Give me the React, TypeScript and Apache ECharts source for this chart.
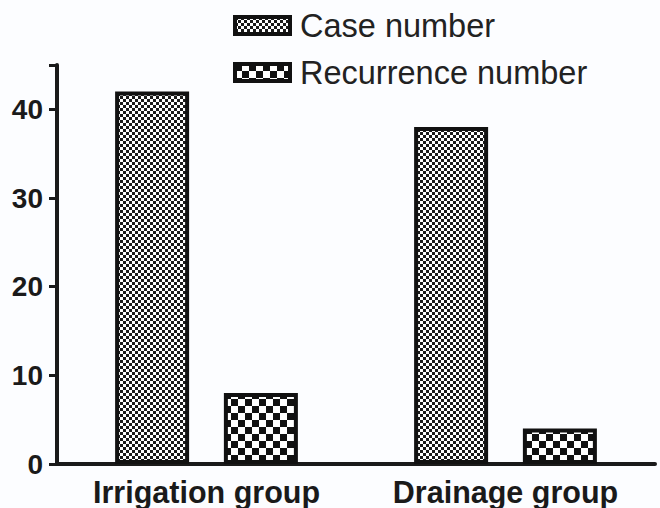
import React, { useEffect, useRef } from "react";
import * as echarts from "echarts";

const categories = ["Irrigation group", "Drainage group"];
const caseNumber = [42, 38];
const recurrenceNumber = [8, 4];
const seriesNames = ["Case number", "Recurrence number"];
const yTicks = [0, 10, 20, 30, 40];

function makeChecker(cell: number, dot: number, bg: string, fg: string) {
  const c = document.createElement("canvas");
  c.width = cell * 2;
  c.height = cell * 2;
  const ctx = c.getContext("2d")!;
  ctx.fillStyle = bg;
  ctx.fillRect(0, 0, c.width, c.height);
  ctx.fillStyle = fg;
  ctx.fillRect(0, 0, dot, dot);
  ctx.fillRect(cell, cell, dot, dot);
  return c;
}

export default function App() {
  const ref = useRef<HTMLDivElement>(null);
  useEffect(() => {
    document.body.style.margin = "0";
    const fine = makeChecker(3, 3, "#ffffff", "#1a1a1a");
    const coarse = makeChecker(7, 7, "#ffffff", "#111111");
    const finePat: any = { image: fine, repeat: "repeat" };
    const coarsePat: any = { image: coarse, repeat: "repeat" };
    const chart = echarts.init(ref.current!, null, { renderer: "svg" });
    const axisColor = "#1a1a1a";
    chart.setOption({
      animation: false,
      backgroundColor: "#fcfdff",
      grid: { left: 57, right: 5, top: 65, bottom: 44, containLabel: false },
      legend: {
        orient: "vertical",
        left: 228,
        top: 4,
        itemWidth: 55,
        itemHeight: 17,
        itemGap: 14,
        icon: "rect",
        itemStyle: { borderColor: "#111", borderWidth: 4 },
        textStyle: { fontFamily: "Liberation Sans, Arial", fontSize: 32.5, color: "#222", padding: [0, 0, 0, 5] },
        data: seriesNames,
      },
      xAxis: {
        type: "category",
        data: categories,
        axisLine: { lineStyle: { color: axisColor, width: 4 } },
        axisTick: { alignWithLabel: true, length: 10, lineStyle: { color: axisColor, width: 3 } },
        axisLabel: {
          margin: 12,
          fontFamily: "Liberation Sans, Arial",
          fontWeight: "bold",
          fontSize: 30.5,
          color: "#1a1a1a",
        },
      },
      yAxis: {
        type: "value",
        min: 0,
        max: 45,
        interval: 10,
        splitLine: { show: false },
        axisLine: { show: true, lineStyle: { color: axisColor, width: 4 } },
        axisTick: { show: true, length: 8, lineStyle: { color: axisColor, width: 3 } },
        axisLabel: {
          margin: 14,
          fontFamily: "Liberation Sans, Arial",
          fontWeight: "bold",
          fontSize: 28,
          color: "#1a1a1a",
          formatter: (v: number) => (yTicks.includes(v) ? String(v) : ""),
        },
      },
      series: [
        {
          name: seriesNames[0],
          type: "bar",
          data: caseNumber,
          barWidth: 74,
          barGap: "47%",
          itemStyle: { color: finePat, borderColor: "#111", borderWidth: 4 },
        },
        {
          name: seriesNames[1],
          type: "bar",
          data: recurrenceNumber,
          barWidth: 74,
          itemStyle: { color: coarsePat, borderColor: "#111", borderWidth: 4 },
        },
      ],
    });
    return () => chart.dispose();
  }, []);
  return <div ref={ref} style={{ width: 660, height: 508, position: "absolute", left: 0, top: 0 }} />;
}
